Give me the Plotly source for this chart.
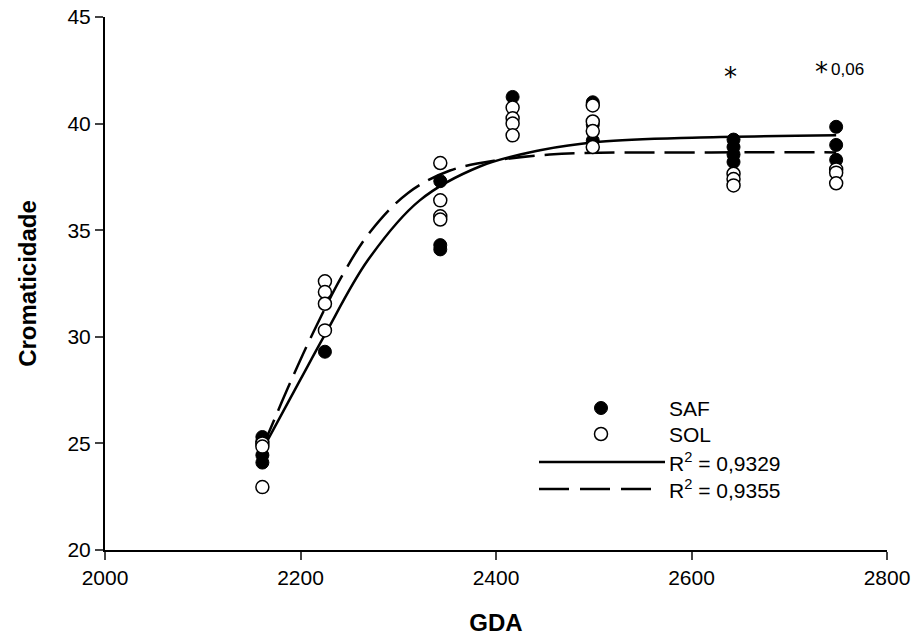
import plotly.graph_objects as go

# ---- data ----
gda_days = [2161, 2225, 2343, 2417, 2499, 2643, 2748]

saf_values = [
    [25.3, 25.1, 24.45, 24.1],
    [29.3],
    [37.3, 34.3, 34.1],
    [41.25],
    [41.0, 39.95, 39.2],
    [39.25, 38.9, 38.55, 38.2],
    [39.85, 39.0, 38.3],
]
sol_values = [
    [25.0, 24.85, 22.95],
    [32.6, 32.1, 31.55, 30.3],
    [38.15, 36.4, 35.65, 35.5],
    [40.75, 40.25, 40.0, 39.45],
    [40.85, 40.1, 39.65, 38.9],
    [37.65, 37.4, 37.1],
    [37.85, 37.7, 37.2],
]

# fitted curves
fit_saf_x = [2161, 2200, 2225, 2269, 2322, 2384, 2445, 2506, 2609, 2748]
fit_saf_y = [24.7, 28.0, 30.1, 33.6, 36.4, 38.0, 38.75, 39.15, 39.35, 39.45]
fit_sol_x = [2161, 2190, 2213, 2243, 2271, 2310, 2353, 2404, 2455, 2506, 2620, 2748]
fit_sol_y = [24.8, 27.9, 30.2, 32.9, 34.9, 36.75, 37.8, 38.3, 38.55, 38.63, 38.65, 38.65]

legend_labels = ["SAF", "SOL", "R<sup>2</sup> = 0,9329", "R<sup>2</sup> = 0,9355"]
star_marks = [(2640, 42.17), (2733, 42.4)]
p_note = ("0,06", 2760, 42.55)

x_ticks = [2000, 2200, 2400, 2600, 2800]
y_ticks = [20, 25, 30, 35, 40, 45]

FONT = "Liberation Sans, Arial, sans-serif"

saf_x, saf_y, sol_x, sol_y = [], [], [], []
for d, vals in zip(gda_days, saf_values):
    saf_x += [d] * len(vals)
    saf_y += vals
for d, vals in zip(gda_days, sol_values):
    sol_x += [d] * len(vals)
    sol_y += vals

fig = go.Figure()
fig.add_trace(go.Scatter(x=fit_saf_x, y=fit_saf_y, mode="lines",
                         line=dict(color="black", width=2.5, shape="spline", smoothing=1.0),
                         showlegend=False, hoverinfo="skip"))
fig.add_trace(go.Scatter(x=fit_sol_x, y=fit_sol_y, mode="lines",
                         line=dict(color="black", width=2.5, dash="30px,10px", shape="spline", smoothing=1.0),
                         showlegend=False, hoverinfo="skip"))
fig.add_trace(go.Scatter(x=saf_x, y=saf_y, mode="markers", name="SAF",
                         marker=dict(symbol="circle", size=13, color="black",
                                     line=dict(color="black", width=1)),
                         showlegend=False))
fig.add_trace(go.Scatter(x=sol_x, y=sol_y, mode="markers", name="SOL",
                         marker=dict(symbol="circle", size=13, color="white",
                                     line=dict(color="black", width=1.5)),
                         showlegend=False))

# ---- manual legend (paper coordinates) ----
L, R, T, B = 105, 887, 17, 550
def px(xp):
    return (xp - L) / (R - L)
def py(yp):
    return (B - yp) / (B - T)

shapes = []
shapes.append(dict(type="circle", xref="paper", yref="paper", xsizemode="pixel", ysizemode="pixel",
                   xanchor=px(601), yanchor=py(408), x0=-6.5, x1=6.5, y0=-6.5, y1=6.5,
                   fillcolor="black", line=dict(color="black", width=1)))
shapes.append(dict(type="circle", xref="paper", yref="paper", xsizemode="pixel", ysizemode="pixel",
                   xanchor=px(601), yanchor=py(434), x0=-6.5, x1=6.5, y0=-6.5, y1=6.5,
                   fillcolor="white", line=dict(color="black", width=1.5)))
shapes.append(dict(type="line", xref="paper", yref="paper", x0=px(539), x1=px(665),
                   y0=py(462), y1=py(462), line=dict(color="black", width=2.5)))
shapes.append(dict(type="line", xref="paper", yref="paper", x0=px(539), x1=px(651),
                   y0=py(489), y1=py(489), line=dict(color="black", width=2.5, dash="30px,11px")))

annotations = []
for lab, yp in zip(legend_labels, [408, 434, 462, 489]):
    annotations.append(dict(x=px(667), y=py(yp), xref="paper", yref="paper", text=lab,
                            showarrow=False, xanchor="left", yanchor="middle",
                            font=dict(family=FONT, size=21, color="black")))
for xv, yv in star_marks:
    annotations.append(dict(x=xv, y=yv, xref="x", yref="y", text="*", showarrow=False,
                            xanchor="center", yanchor="middle",
                            font=dict(family="DejaVu Sans, sans-serif", size=26, color="black")))
annotations.append(dict(x=p_note[1], y=p_note[2], xref="x", yref="y", text=p_note[0],
                        showarrow=False, xanchor="center", yanchor="middle",
                        font=dict(family=FONT, size=17, color="black")))

fig.update_layout(
    width=915, height=637,
    margin=dict(l=L, r=915 - R, t=T, b=637 - B),
    paper_bgcolor="white", plot_bgcolor="white",
    shapes=shapes, annotations=annotations,
    showlegend=False,
    font=dict(family=FONT, color="black"),
)
fig.update_xaxes(range=[2000, 2800], tickvals=x_ticks, ticks="outside", ticklen=8, tickwidth=2,
                 showline=True, linewidth=2, linecolor="black", showgrid=False, zeroline=False,
                 automargin=False,
                 tickfont=dict(family=FONT, size=21),
                 title=dict(text="<b>GDA</b>", font=dict(family=FONT, size=24), standoff=26))
fig.update_yaxes(range=[20, 45], tickvals=y_ticks, ticks="outside", ticklen=8, tickwidth=2,
                 showline=True, linewidth=2, linecolor="black", showgrid=False, zeroline=False,
                 automargin=False,
                 tickfont=dict(family=FONT, size=21),
                 title=dict(text="<b>Cromaticidade</b>", font=dict(family=FONT, size=24), standoff=24))

fig.write_html("out.html")
